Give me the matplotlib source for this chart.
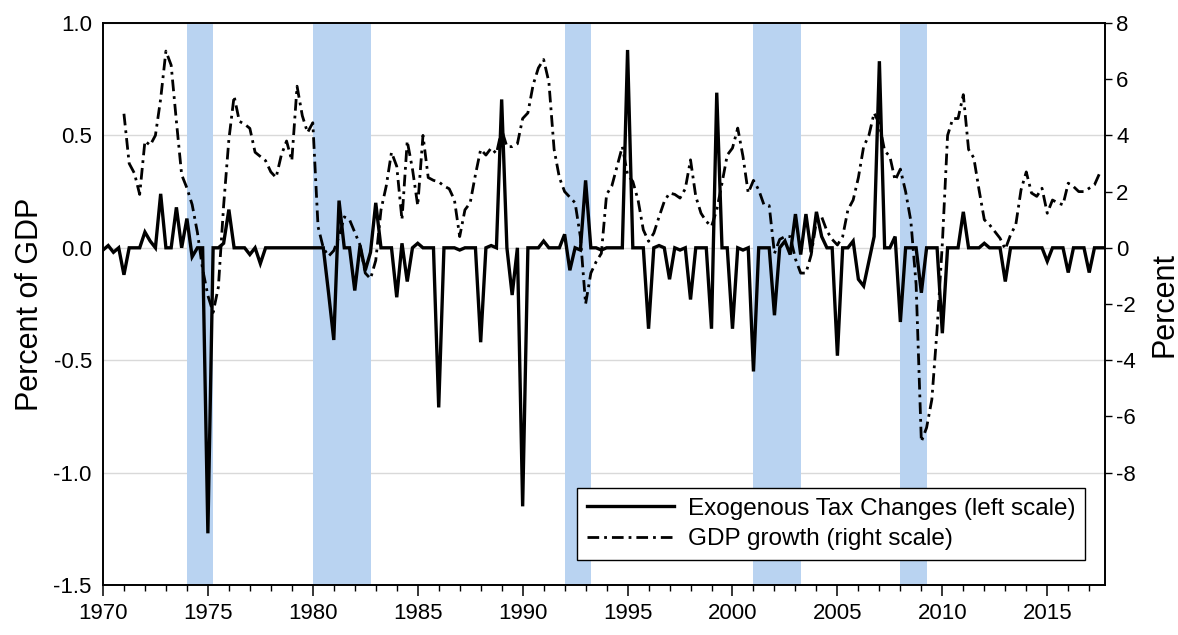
import numpy as np
import matplotlib
matplotlib.use("Agg")
import matplotlib.pyplot as plt
from matplotlib.ticker import MultipleLocator, FormatStrFormatter

plt.rcParams['font.family'] = ['Liberation Sans', 'DejaVu Sans']
plt.rcParams['axes.unicode_minus'] = False

# quarterly, starting 1970Q1 (percent of GDP)
tax_start = 1970.0
tax_changes = [
    -0.01, 0.01, -0.02, 0.00,   # 1970
    -0.12, 0.00, 0.00, 0.00,    # 1971
    0.07, 0.03, 0.00, 0.24,     # 1972
    0.00, 0.00, 0.18, 0.00,     # 1973
    0.13, -0.04, 0.00, 0.00,    # 1974
    -1.27, 0.00, 0.00, 0.02,    # 1975
    0.17, 0.00, 0.00, 0.00,     # 1976
    -0.03, 0.00, -0.07, 0.00,   # 1977
    0.00, 0.00, 0.00, 0.00,     # 1978
    0.00, 0.00, 0.00, 0.00,     # 1979
    0.00, 0.00, 0.00, -0.20,    # 1980
    -0.41, 0.21, 0.00, 0.00,    # 1981
    -0.19, 0.01, -0.10, -0.02,  # 1982
    0.20, 0.00, 0.00, 0.00,     # 1983
    -0.22, 0.02, -0.15, 0.00,   # 1984
    0.02, 0.00, 0.00, 0.00,     # 1985
    -0.71, 0.00, 0.00, 0.00,    # 1986
    -0.01, 0.00, 0.00, 0.00,    # 1987
    -0.42, 0.00, 0.01, 0.00,    # 1988
    0.66, 0.00, -0.21, 0.00,    # 1989
    -1.15, 0.00, 0.00, 0.00,    # 1990
    0.03, 0.00, 0.00, 0.00,     # 1991
    0.06, -0.10, 0.00, -0.01,   # 1992
    0.30, 0.00, 0.00, -0.01,    # 1993
    0.00, 0.00, 0.00, 0.00,     # 1994
    0.88, 0.00, 0.00, 0.00,     # 1995
    -0.36, 0.00, 0.01, 0.00,    # 1996
    -0.14, 0.00, -0.01, 0.00,   # 1997
    -0.23, 0.00, 0.00, 0.00,    # 1998
    -0.36, 0.69, 0.00, 0.00,    # 1999
    -0.36, 0.00, -0.01, 0.00,   # 2000
    -0.55, 0.00, 0.00, 0.00,    # 2001
    -0.30, 0.00, 0.03, -0.03,   # 2002
    0.15, -0.03, 0.15, -0.02,   # 2003
    0.16, 0.05, 0.00, 0.00,     # 2004
    -0.48, 0.00, 0.00, 0.03,    # 2005
    -0.14, -0.17, -0.06, 0.05,  # 2006
    0.83, 0.00, 0.00, 0.05,     # 2007
    -0.33, 0.00, 0.00, 0.00,    # 2008
    -0.20, 0.00, 0.00, 0.00,    # 2009
    -0.38, 0.00, 0.00, 0.00,    # 2010
    0.16, 0.00, 0.00, 0.00,     # 2011
    0.02, 0.00, 0.00, 0.00,     # 2012
    -0.15, 0.00, 0.00, 0.00,    # 2013
    0.00, 0.00, 0.00, 0.00,     # 2014
    -0.06, 0.00, 0.00, 0.00,    # 2015
    -0.11, 0.00, 0.00, 0.00,    # 2016
    -0.11, 0.00, 0.00, 0.00,    # 2017
]

# quarterly GDP growth, starting 1971Q1 (percent)
gdp_start = 1971.0
gdp_growth = [
    4.77, 3.00, 2.65, 1.90,     # 1971
    3.80, 3.65, 4.00, 5.30,     # 1972
    7.00, 6.50, 4.50, 2.60,     # 1973
    2.13, 1.54, 0.55, -0.76,    # 1974
    -1.70, -2.30, -1.40, 1.50,  # 1975
    3.85, 5.40, 4.50, 4.40,     # 1976
    4.25, 3.40, 3.25, 3.10,     # 1977
    2.70, 2.50, 3.30, 3.80,     # 1978
    3.10, 5.75, 4.70, 4.10,     # 1979
    4.45, 0.75, 0.00, -0.30,    # 1980
    -0.10, 0.40, 1.10, 1.00,    # 1981
    0.55, 0.10, -0.90, -1.10,   # 1982
    -0.45, 1.35, 2.20, 3.40,    # 1983
    2.90, 1.00, 3.80, 2.80,     # 1984
    1.50, 4.00, 2.50, 2.40,     # 1985
    2.35, 2.20, 2.10, 1.70,     # 1986
    0.40, 1.35, 1.60, 2.60,     # 1987
    3.50, 3.30, 3.55, 3.35,     # 1988
    4.20, 3.60, 3.60, 3.70,     # 1989
    4.60, 4.80, 5.80, 6.40,     # 1990
    6.70, 5.90, 3.50, 2.50,     # 1991
    2.00, 1.80, 1.60, 0.40,     # 1992
    -2.00, -0.90, -0.50, -0.20, # 1993
    1.90, 2.20, 2.90, 3.60,     # 1994
    2.60, 2.36, 1.70, 0.64,     # 1995
    0.23, 0.52, 1.10, 1.65,     # 1996
    1.95, 1.90, 1.77, 2.10,     # 1997
    3.13, 1.83, 1.23, 0.94,     # 1998
    0.76, 1.35, 2.30, 3.30,     # 1999
    3.55, 4.26, 3.25, 1.95,     # 2000
    2.40, 2.06, 1.53, 1.50,     # 2001
    -0.20, 0.30, 0.40, 0.40,    # 2002
    -0.40, -0.90, -0.90, -0.25, # 2003
    0.95, 1.10, 0.60, 0.30,     # 2004
    0.10, 0.40, 1.35, 1.70,     # 2005
    2.50, 3.60, 4.00, 4.80,     # 2006
    4.40, 3.45, 3.25, 2.40,     # 2007
    2.80, 2.00, 0.95, -1.30,    # 2008
    -6.90, -6.40, -5.40, -2.90, # 2009
    0.15, 4.00, 4.60, 4.60,     # 2010
    5.45, 3.50, 3.20, 2.06,     # 2011
    1.00, 0.82, 0.58, 0.34,     # 2012
    -0.05, 0.46, 0.82, 2.06,    # 2013
    2.70, 1.95, 1.83, 2.12,     # 2014
    1.23, 1.70, 1.60, 1.53,     # 2015
    2.30, 2.18, 2.00, 2.00,     # 2016
    2.12, 2.24, 2.66,           # 2017
]

recessions = [(1974.0, 1975.25), (1980.0, 1982.75), (1992.0, 1993.25),
              (2001.0, 2003.25), (2008.0, 2009.25)]

x_tax = tax_start + np.arange(len(tax_changes)) / 4
x_gdp = gdp_start + np.arange(len(gdp_growth)) / 4

fig = plt.figure(figsize=(11.78, 6.35), dpi=100)
ax = fig.add_axes([0.0874, 0.0787, 0.8506, 0.8851])
ax2 = ax.twinx()

ax.set_axisbelow(True)
ax.yaxis.grid(True, color="#d9d9d9", lw=1.0)
for a, b in recessions:
    ax.axvspan(a, b, color="#b9d3f1", lw=0, zorder=1)

l1, = ax.plot(x_tax, tax_changes, color="black", lw=2.4, zorder=3,
              solid_joinstyle="miter", label="Exogenous Tax Changes (left scale)")
l2, = ax2.plot(x_gdp, gdp_growth, color="black", lw=2.0, dashes=(4.2, 1.8, 1.0, 1.8),
               label="GDP growth (right scale)")

ax.set_xlim(1970, 2017.75)
ax.set_ylim(-1.5, 1.0)
ax2.set_ylim(-12, 8)
ax.set_yticks([-1.5, -1.0, -0.5, 0.0, 0.5, 1.0])
ax.yaxis.set_major_formatter(FormatStrFormatter("%.1f"))
ax2.set_yticks(range(-8, 9, 2))
ax.xaxis.set_major_locator(MultipleLocator(5))
ax.xaxis.set_minor_locator(MultipleLocator(1))

ax.tick_params(axis="x", which="major", direction="out", length=8, width=1.1,
               labelsize=16, pad=5)
ax.tick_params(axis="x", which="minor", direction="out", length=4, width=1.0)
ax.tick_params(axis="y", length=0, labelsize=16, pad=8)
ax2.tick_params(axis="y", direction="out", length=5, width=1.0, labelsize=16, pad=3)

for axis in (ax, ax2):
    for sp in axis.spines.values():
        sp.set_linewidth(1.2)
        sp.set_color("black")

ax.set_ylabel("Percent of GDP", fontsize=22, labelpad=6)
ax2.set_ylabel("Percent", fontsize=22, labelpad=10)

leg = ax2.legend(handles=[l1, l2], loc="lower right", bbox_to_anchor=(0.98, 0.0445),
                 borderaxespad=0, fontsize=17.5, frameon=True, fancybox=False,
                 framealpha=1, edgecolor="black", handlelength=3.6,
                 handletextpad=0.55, labelspacing=0.35, borderpad=0.4)
leg.get_frame().set_linewidth(1.0)

fig.savefig("out.png", dpi=100)
